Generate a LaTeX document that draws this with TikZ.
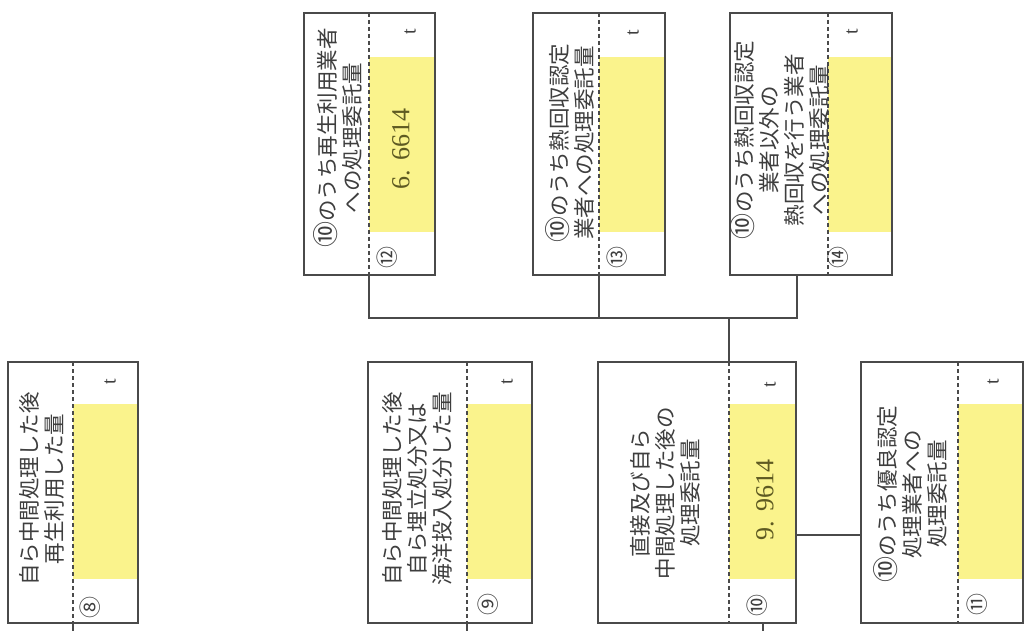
\documentclass[tikz,border=0pt]{standalone}
\usepackage{fontspec}
\setmainfont{Liberation Serif}
\newfontfamily\jp{Noto Sans CJK JP}
\definecolor{linec}{HTML}{4A4A4A}
\definecolor{txtc}{HTML}{3E3E3E}
\definecolor{yel}{HTML}{FAF38C}
\definecolor{numc}{HTML}{5E5A22}
\newcommand{\bigten}{{\fontsize{26}{25}\selectfont ⑩}}
\begin{document}
\begin{tikzpicture}[x=1pt,y=-1pt,
  box/.style={draw=linec, line width=1.3pt, inner sep=0pt, outer sep=0pt},
  dline/.style={draw=linec, line width=1.3pt, dash pattern=on 4pt off 3pt},
  conn/.style={draw=linec, line width=1.3pt},
  lab/.style={rotate=90, text=txtc, align=center, inner sep=0pt, font=\jp\fontsize{21.5}{25}\selectfont},
  circ/.style={rotate=90, text=txtc, inner sep=0pt, font=\jp\fontsize{22}{22}\selectfont},
  unit/.style={rotate=90, text=txtc, inner sep=0pt, font=\fontsize{20}{20}\selectfont},
  num/.style={rotate=90, text=numc, inner sep=0pt, font=\fontsize{26}{26}\selectfont}]
\useasboundingbox (0,0) rectangle (1025,631);
\fill[white] (0,0) rectangle (1025,631);

% dashed-line coordinates
\coordinate (d8) at (73,362);
\coordinate (d9) at (467,362);
\coordinate (d10) at (729,362);
\coordinate (d11) at (958,362);
\coordinate (d12) at (369,13);
\coordinate (d13) at (599,13);
\coordinate (d14) at (828,13);

% yellow value areas
\fill[yel] (73,404) rectangle (138,579);
\fill[yel] (467,404) rectangle (532,579);
\fill[yel] (729,404) rectangle (796,579);
\fill[yel] (958,404) rectangle (1023,579);
\fill[yel] (369,57) rectangle (435,232);
\fill[yel] (599,57) rectangle (665,232);
\fill[yel] (828,57) rectangle (892,232);

% boxes
\node[box, minimum width=130pt, minimum height=261pt] (b8) at (73,492.5) {};
\node[box, minimum width=164pt, minimum height=261pt] (b9) at (450,492.5) {};
\node[box, minimum width=198pt, minimum height=261pt] (b10) at (697,492.5) {};
\node[box, minimum width=162pt, minimum height=261pt] (b11) at (942,492.5) {};
\node[box, minimum width=131pt, minimum height=262pt] (b12) at (369.5,144) {};
\node[box, minimum width=132pt, minimum height=262pt] (b13) at (599,144) {};
\node[box, minimum width=162pt, minimum height=262pt] (b14) at (811,144) {};

% dashed separators
\foreach \b in {8,9,10,11,12,13,14}
  \draw[dline] (b\b.north -| d\b) -- (b\b.south -| d\b);

% texts
\node[lab] (t8) at (41.5,489) {自ら中間処理した後\\再生利用した量};
\node[lab] (t9) at (417,489) {自ら中間処理した後\\自ら埋立処分又は\\海洋投入処分した量};
\node[lab] (t10) at (665,493) {直接及び自ら\\中間処理した後の\\処理委託量};
\node[lab] (t11) at (910,494) {\bigten のうち優良認定\\処理業者への\\処理委託量};
\node[lab] (t12) at (338,138) {\bigten のうち再生利用業者\\への処理委託量};
\node[lab] (t13) at (570,143) {\bigten のうち熱回収認定\\業者への処理委託量};
\node[lab] (t14) at (780,140) {\bigten のうち熱回収認定\\業者以外の\\熱回収を行う業者\\への処理委託量};

% circled numbers
\node[circ] (c8) at (90,607) {⑧};
\node[circ] (c9) at (488,604) {⑨};
\node[circ] (c10) at (757,605) {⑩};
\node[circ] (c11) at (977,604) {⑪};
\node[circ] (c12) at (387,257) {⑫};
\node[circ] (c13) at (617,257) {⑬};
\node[circ] (c14) at (838,257) {⑭};

% units
\node[unit] (u8) at (110,382) {t};
\node[unit] (u9) at (507,382) {t};
\node[unit] (u10) at (770,385) {t};
\node[unit] (u11) at (993,382) {t};
\node[unit] (u12) at (410,32) {t};
\node[unit] (u13) at (633,33) {t};
\node[unit] (u14) at (852,32) {t};

% values
\node[num] (v10) at (765,500) {9. 9614};
\node[num] (v12) at (401,149) {6. 6614};

% connectors
\coordinate (bus) at (729,318);
\coordinate (j14) at (797,275);
\coordinate (r10) at (796,535);
\coordinate (e8) at (73,631);
\coordinate (e9) at (467,631);
\coordinate (e10) at (763,631);
\draw[conn] (b12.south -| d12) -- (bus -| d12) -- (bus -| j14) -- (b14.south -| j14);
\draw[conn] (b13.south -| d13) -- (bus -| d13);
\draw[conn] (bus) -- (b10.north -| bus);
\draw[conn] (b10.east |- r10) -- (b11.west |- r10);
\draw[conn] (b8.south -| e8) -- (e8);
\draw[conn] (b9.south -| e9) -- (e9);
\draw[conn] (b10.south -| e10) -- (e10);
\end{tikzpicture}
\end{document}
